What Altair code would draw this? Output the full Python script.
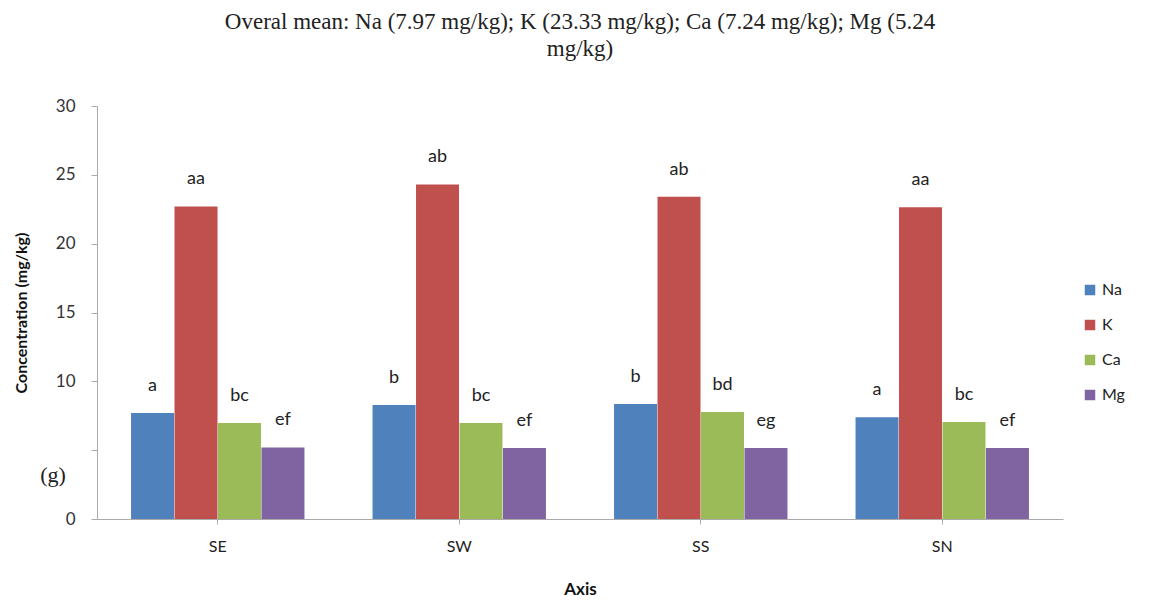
import altair as alt
import pandas as pd

sites = ["SE", "SW", "SS", "SN"]
elements = ["Na", "K", "Ca", "Mg"]
na = [7.7, 8.28, 8.35, 7.4]
k = [22.7, 24.3, 23.4, 22.65]
ca = [6.97, 6.97, 7.77, 7.04]
mg = [5.2, 5.16, 5.16, 5.16]
letters_na = ["a", "b", "b", "a"]
letters_k = ["aa", "ab", "ab", "aa"]
letters_ca = ["bc", "bc", "bd", "bc"]
letters_mg = ["ef", "ef", "eg", "ef"]
colors = ["#4F81BD", "#C0504D", "#9BBB59", "#8064A2"]

rows = []
for i, s in enumerate(sites):
    for e, vals, labs in zip(elements, [na, k, ca, mg], [letters_na, letters_k, letters_ca, letters_mg]):
        rows.append({"Site": s, "Element": e, "Value": vals[i], "Letter": labs[i]})
df = pd.DataFrame(rows)

x = alt.X("Site:N", sort=sites, title="Axis",
          scale=alt.Scale(paddingInner=0.28, paddingOuter=0.14),
          axis=alt.Axis(labelAngle=0, labelFont="Lato", labelFontSize=16, labelColor="#222",
                        titleFont="Lato", titleFontSize=17, titleFontWeight="bold", titleColor="#111",
                        titlePadding=27, domainColor="#aaa", tickColor="#aaa", tickSize=5, labelPadding=14))
xoff = alt.XOffset("Element:N", sort=elements)
y = alt.Y("Value:Q", title="Concentration (mg/kg)",
          scale=alt.Scale(domain=[0, 30]),
          axis=alt.Axis(values=[0, 5, 10, 15, 20, 25, 30], grid=False,
                        labelExpr="datum.value == 5 ? '' : datum.label",
                        labelFont="Lato", labelFontSize=17, labelColor="#333", labelPadding=16,
                        titleFont="Lato", titleFontSize=16, titleFontWeight="bold", titleColor="#111",
                        titlePadding=26, domainColor="#aaa", tickColor="#aaa", tickSize=6))
color = alt.Color("Element:N", sort=elements,
                  scale=alt.Scale(domain=elements, range=colors),
                  legend=alt.Legend(title=None, symbolType="square", symbolSize=110,
                                    labelFont="Lato", labelFontSize=16, labelColor="#222",
                                    rowPadding=19, orient="none", legendX=985, legendY=176,
                                    symbolStrokeWidth=0))

base = alt.Chart(df)
bars = base.mark_bar(size=43).encode(x=x, xOffset=xoff, y=y, color=color)
texts = base.mark_text(dy=-27, font="Lato", fontSize=18, color="#222").encode(
    x=x, xOffset=xoff, y=y, text="Letter:N")
g = alt.Chart(pd.DataFrame({"t": ["(g)"], "v": [3.2]})).mark_text(
    font="Liberation Serif", fontSize=22, color="#222").encode(
    x=alt.value(-44), y=alt.Y("v:Q"), text="t:N")

chart = (bars + texts + g).properties(
    width=966, height=413, background="white",
    padding={"top": 3, "left": 5, "right": 5, "bottom": 5},
    title=alt.TitleParams(
        ["Overal mean: Na (7.97 mg/kg);  K (23.33 mg/kg);  Ca (7.24 mg/kg);  Mg (5.24", "mg/kg)"],
        font="Liberation Serif", fontSize=23, fontWeight="normal", color="#222",
        lineHeight=27, offset=36, anchor="middle")
).configure_view(stroke=None)

chart.save("out.html", embed_options={"renderer": "svg", "actions": False})
